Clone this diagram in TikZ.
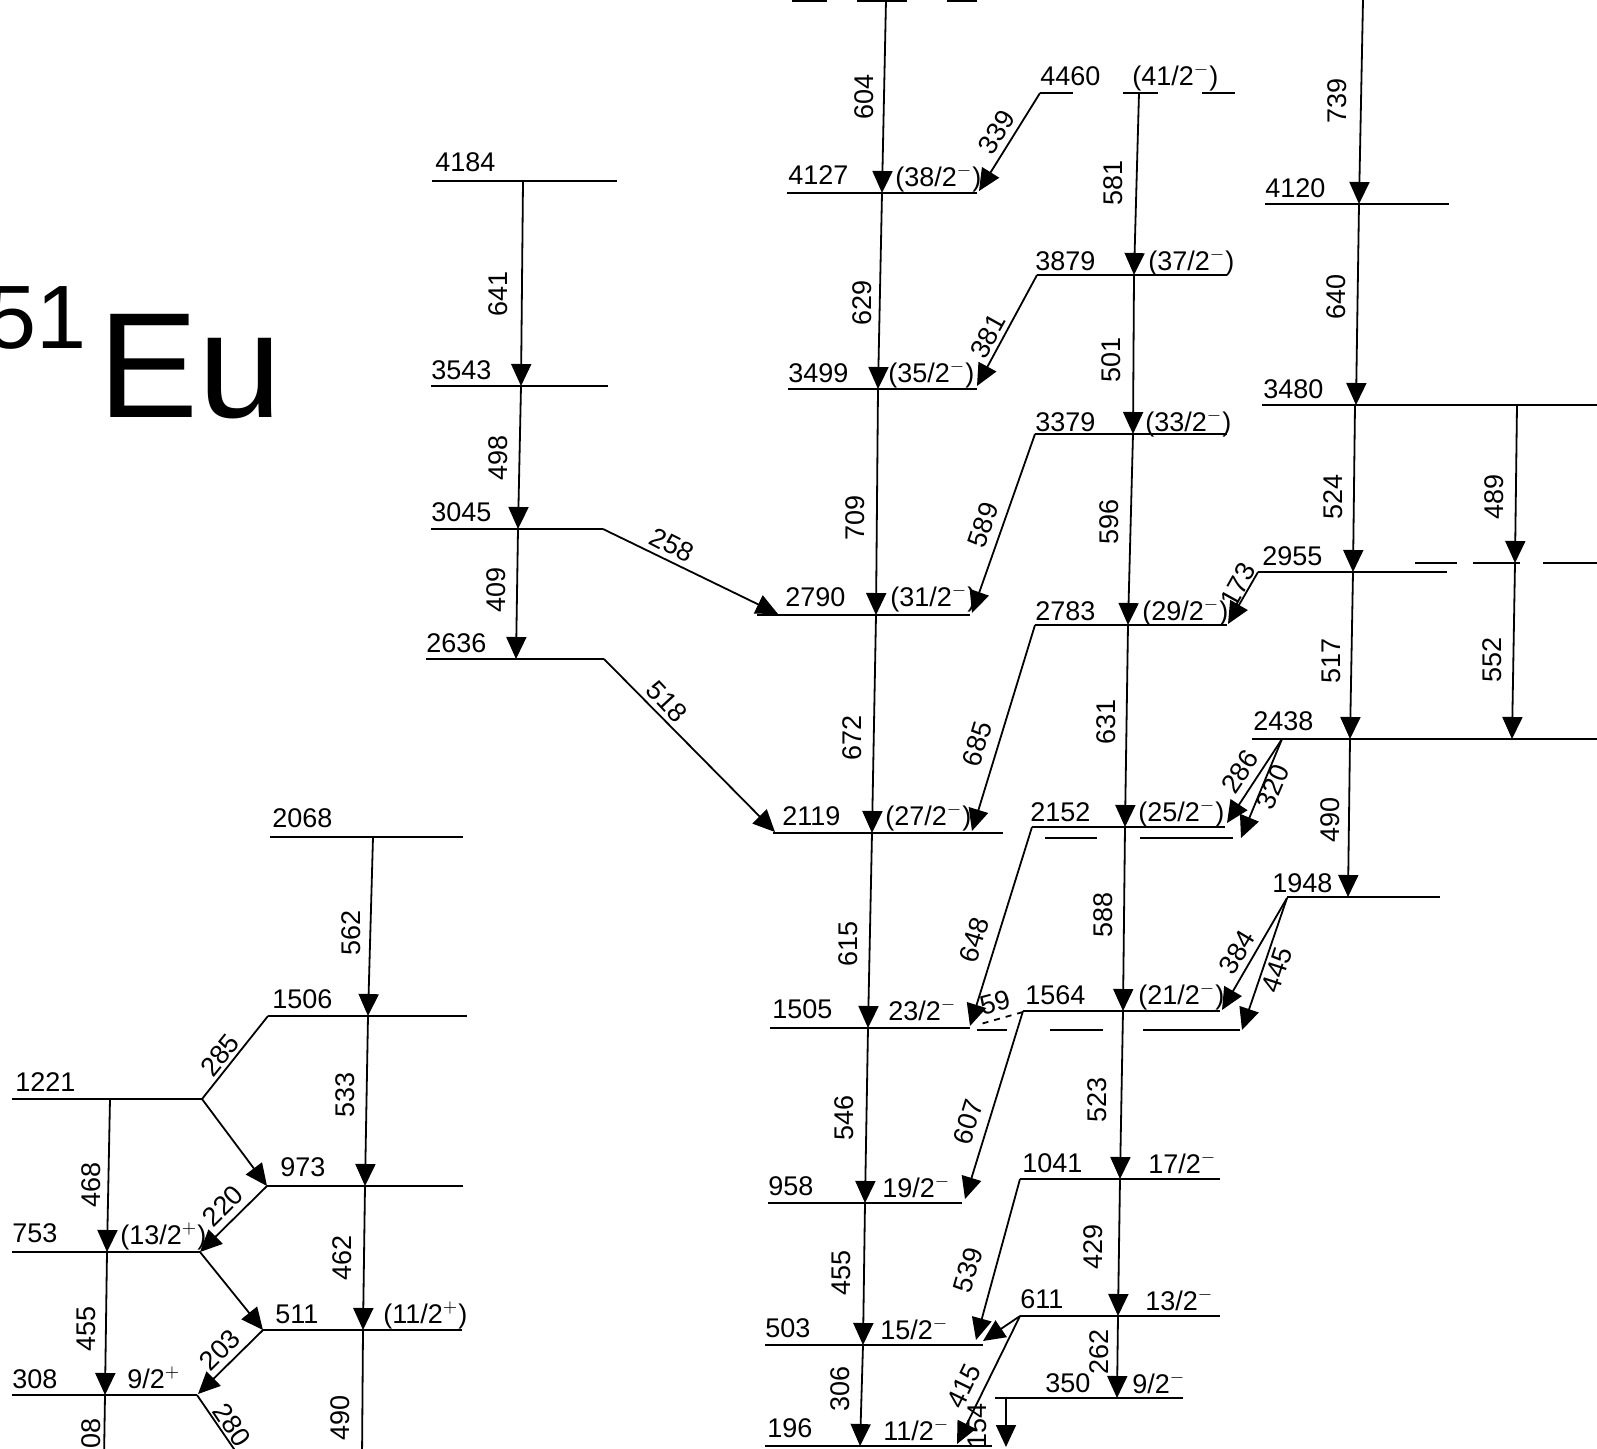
\documentclass[tikz,border=0pt]{standalone}
\usepackage{fontspec}
\setmainfont{Liberation Sans}
\usetikzlibrary{arrows.meta}
\newcommand{\jpi}[2]{#1/2$^{#2}$}
\tikzset{
  lvl/.style={line width=1.4pt},
  gam/.style={line width=0.9pt,-{Triangle[length=11pt,width=10pt]}},
  ray/.style={line width=0.9pt},
  elab/.style={anchor=base west,inner sep=0pt},
  glab/.style={inner sep=0pt},
}
\begin{document}
\begin{tikzpicture}[x=0.5pt,y=-0.5pt,font=\fontsize{13.5}{16}\selectfont]
  \useasboundingbox (0,0) rectangle (1597,1448);
  \clip (0,0) rectangle (1597,1448);
  \fill[white] (0,0) rectangle (1597,1448);
  % nucleus
  \node[anchor=base west,inner sep=0pt,font=\fontsize{75}{80}\selectfont] (eu) at (98,417) {Eu};
  \node[anchor=base east,inner sep=0pt,font=\fontsize{45}{48}\selectfont] (mass) at (87,348) {151};
  % band 1 (4184 ... 2636)
  \draw[lvl] (432,181) -- (617,181);
  \draw[lvl] (431,386) -- (608,386);
  \draw[lvl] (431,529) -- (603,529);
  \draw[lvl] (426,659) -- (604,659);
  \draw[gam] (523,181) -- (521,386);
  \draw[gam] (521,386) -- (518,529);
  \draw[gam] (518,529) -- (516,659);
  \draw[gam] (603,529) -- (778,614);
  \draw[gam] (604,659) -- (775,832);
  % yrast band, left branch
  \draw[lvl] (792,1) -- (827,1); \draw[lvl] (857,1) -- (907,1); \draw[lvl] (947,1) -- (977,1);
  \draw[lvl] (787,193) -- (977,193);
  \draw[lvl] (788,389) -- (977,389);
  \draw[lvl] (757,615) -- (970,615);
  \draw[lvl] (773,833) -- (1003,833);
  \draw[lvl] (770,1028) -- (970,1028);
  \draw[lvl] (768,1203) -- (962,1203);
  \draw[lvl] (765,1345) -- (983,1345);
  \draw[lvl] (765,1446) -- (992,1446);
  \draw[gam] (886,0) -- (882,193);
  \draw[gam] (882,193) -- (878,389);
  \draw[gam] (878,389) -- (876,615);
  \draw[gam] (876,615) -- (872,833);
  \draw[gam] (872,833) -- (868,1028);
  \draw[gam] (868,1028) -- (865,1203);
  \draw[gam] (865,1203) -- (863,1345);
  \draw[gam] (863,1345) -- (860,1446);
  % yrast band, right branch
  \draw[lvl] (1040,93) -- (1073,93);
  \draw[lvl] (1123,93) -- (1158,93); \draw[lvl] (1202,93) -- (1235,93);
  \draw[lvl] (1037,275) -- (1227,275);
  \draw[lvl] (1035,434) -- (1227,434);
  \draw[lvl] (1035,625) -- (1227,625);
  \draw[lvl] (1032,827) -- (1225,827);
  \draw[lvl] (1045,838) -- (1097,838); \draw[lvl] (1140,838) -- (1233,838);
  \draw[lvl] (1023,1011) -- (1220,1011);
  \draw[lvl] (977,1030) -- (1007,1030); \draw[lvl] (1050,1030) -- (1103,1030); \draw[lvl] (1143,1030) -- (1240,1030);
  \draw[lvl] (1020,1179) -- (1220,1179);
  \draw[lvl] (1020,1316) -- (1220,1316);
  \draw[lvl] (995,1398) -- (1183,1398);
  \draw[gam] (1139,93) -- (1134,275);
  \draw[gam] (1134,275) -- (1133,434);
  \draw[gam] (1133,434) -- (1128,625);
  \draw[gam] (1128,625) -- (1125,827);
  \draw[gam] (1125,827) -- (1123,1011);
  \draw[gam] (1123,1011) -- (1120,1179);
  \draw[gam] (1120,1179) -- (1118,1316);
  \draw[gam] (1118,1316) -- (1117,1398);
  \draw[gam] (1006,1398) -- (1006,1447);
  % crossovers
  \draw[gam] (1040,93) -- (979,191);
  \draw[gam] (1037,275) -- (977,386);
  \draw[gam] (1035,434) -- (972,613);
  \draw[gam] (1035,625) -- (972,831);
  \draw[gam] (1032,827) -- (970,1026);
  \draw[gam] (1023,1011) -- (965,1199);
  \draw[gam] (1020,1179) -- (976,1340);
  \draw[gam] (1020,1316) -- (983,1341);
  \draw[gam] (1020,1316) -- (957,1444);
  \draw[ray,dashed] (1023,1012) -- (977,1025);
  % band 3 (4120 ... 1948)
  \draw[lvl] (1265,204) -- (1449,204);
  \draw[lvl] (1262,405) -- (1597,405);
  \draw[lvl] (1258,572) -- (1447,572);
  \draw[lvl] (1415,563) -- (1457,563); \draw[lvl] (1473,563) -- (1520,563); \draw[lvl] (1543,563) -- (1597,563);
  \draw[lvl] (1252,739) -- (1597,739);
  \draw[lvl] (1287,897) -- (1440,897);
  \draw[gam] (1363,0) -- (1359,204);
  \draw[gam] (1359,204) -- (1356,405);
  \draw[gam] (1355,405) -- (1353,572);
  \draw[gam] (1353,572) -- (1350,739);
  \draw[gam] (1350,739) -- (1348,897);
  \draw[gam] (1517,405) -- (1515,563);
  \draw[gam] (1515,563) -- (1512,739);
  \draw[gam] (1258,572) -- (1228,624);
  \draw[gam] (1282,739) -- (1227,823);
  \draw[gam] (1282,739) -- (1241,838);
  \draw[gam] (1287,898) -- (1222,1010);
  \draw[gam] (1287,898) -- (1242,1030);
  % positive parity band
  \draw[lvl] (270,837) -- (463,837);
  \draw[lvl] (268,1016) -- (467,1016);
  \draw[lvl] (12,1099) -- (202,1099);
  \draw[lvl] (267,1186) -- (463,1186);
  \draw[lvl] (12,1252) -- (200,1252);
  \draw[lvl] (263,1330) -- (462,1330);
  \draw[lvl] (12,1395) -- (197,1395);
  \draw[gam] (373,837) -- (368,1016);
  \draw[gam] (368,1016) -- (365,1186);
  \draw[gam] (365,1186) -- (363,1330);
  \draw[ray] (363,1330) -- (362,1460);
  \draw[gam] (110,1099) -- (107,1252);
  \draw[gam] (107,1252) -- (105,1395);
  \draw[ray] (105,1395) -- (104,1460);
  \draw[ray] (202,1099) -- (268,1016);
  \draw[gam] (202,1099) -- (267,1186);
  \draw[gam] (267,1186) -- (200,1252);
  \draw[gam] (200,1252) -- (263,1330);
  \draw[gam] (263,1330) -- (198,1394);
  \draw[ray] (197,1395) -- (245,1465);
  % level energies
  \foreach \x/\y/\t in {435/171/4184,431/379/3543,431/521/3045,426/652/2636,
      788/184/4127,788/382/3499,785/606/2790,782/825/2119,772/1018/1505,768/1195/958,765/1337/503,767/1437/196,
      1040/85/4460,1035/270/3879,1035/431/3379,1035/620/2783,1030/821/2152,1025/1004/1564,1022/1172/1041,1020/1308/611,1045/1392/350,
      1265/197/4120,1263/398/3480,1262/565/2955,1253/730/2438,1272/892/1948,
      272/827/2068,272/1008/1506,15/1091/1221,280/1176/973,12/1242/753,275/1323/511,12/1388/308}
    \node[elab] (e\t) at (\x,\y) {\t};
  % spins
  \node[elab] (s38) at (895,186) {(\jpi{38}{-})};
  \node[elab] (s35) at (888,382) {(\jpi{35}{-})};
  \node[elab] (s31) at (890,606) {(\jpi{31}{-})};
  \node[elab] (s27) at (885,825) {(\jpi{27}{-})};
  \node[elab] (s23) at (888,1020) {\jpi{23}{-}};
  \node[elab] (s19) at (882,1197) {\jpi{19}{-}};
  \node[elab] (s15) at (880,1339) {\jpi{15}{-}};
  \node[elab] (s11) at (883,1440) {\jpi{11}{-}};
  \node[elab] (s41) at (1132,85) {(\jpi{41}{-})};
  \node[elab] (s37) at (1148,270) {(\jpi{37}{-})};
  \node[elab] (s33) at (1145,431) {(\jpi{33}{-})};
  \node[elab] (s29) at (1142,620) {(\jpi{29}{-})};
  \node[elab] (s25) at (1138,821) {(\jpi{25}{-})};
  \node[elab] (s21) at (1138,1004) {(\jpi{21}{-})};
  \node[elab] (s17) at (1148,1173) {\jpi{17}{-}};
  \node[elab] (s13) at (1145,1310) {\jpi{13}{-}};
  \node[elab] (s9) at (1132,1393) {\jpi{9}{-}};
  \node[elab] (s13p) at (120,1244) {(\jpi{13}{+})};
  \node[elab] (s11p) at (383,1323) {(\jpi{11}{+})};
  \node[elab] (s9p) at (127,1388) {\jpi{9}{+}};
  % gamma energies
  \foreach \x/\y/\a/\t [count=\i] in {864/97/90/604,862/303/90/629,855/518/90/709,852/738/90/672,848/944/90/615,844/1118/90/546,841/1273/90/455,840/1389/90/306,
      1113/183/90/581,1111/360/90/501,1109/522/90/596,1106/722/90/631,1103/915/90/588,1097/1100/90/523,1093/1247/90/429,1099/1352/90/262,
      1337/101/90/739,1336/297/90/640,1333/497/90/524,1331/661/90/517,1330/820/90/490,1494/497/90/489,1492/660/90/552,
      498/294/90/641,498/458/90/498,496/590/90/409,
      351/933/90/562,345/1095/90/533,342/1258/90/462,340/1418/90/490,91/1185/90/468,86/1329/90/455,91/1441/90/308,
      997/132/58/339,988/336/61/381,983/525/71/589,977/744/73/685,1238/585/61/173,1240/772/56/286,1273/787/67/320,
      974/940/73/648,1237/952/59/384,1277/970/72/445,968/1122/73/607,968/1270/74/539,964/1386/64/415,977/1426/90/154,
      672/545/-27/258,667/702/-47/518,220/1055/51/285,223/1206/45/220,220/1350/45/203,232/1425/-56/280,995/1003/15/59}
    \node[glab,rotate=\a] (g\i) at (\x,\y) {\t};
\end{tikzpicture}
\end{document}
